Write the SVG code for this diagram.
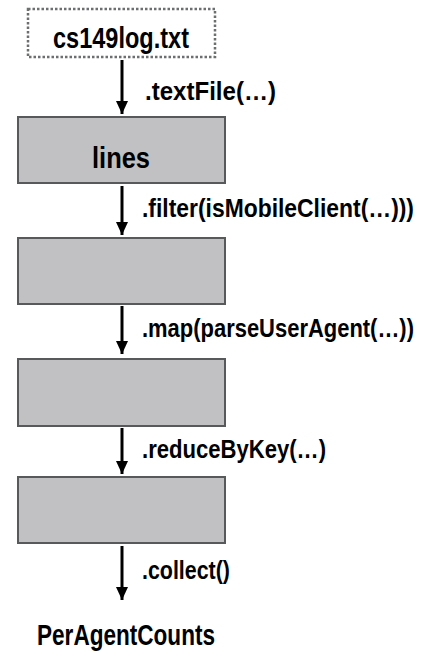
<svg xmlns="http://www.w3.org/2000/svg" width="426" height="651" viewBox="0 0 426 651">
<style>
.box{fill:#c1c1c3;stroke:#58595b;stroke-width:2}
.src{fill:#fff;stroke:#6d6e70;stroke-width:2.5;stroke-dasharray:2.5 2}
.t{font-family:"Liberation Sans Narrow","Liberation Sans",Arial,sans-serif;font-weight:bold;fill:#000}
.lbl{font-size:26px}
.big{font-size:30px}
.edge{stroke:#000;stroke-width:3;fill:none}
</style>
<defs>
<marker id="ah" markerUnits="userSpaceOnUse" markerWidth="14" markerHeight="14" viewBox="0 0 14 14" refX="13" refY="7" orient="auto">
<path d="M0,1 L13,7 L0,13 Z" fill="#000"/>
</marker>
</defs>
<g id="node-src">
<rect class="src" x="28" y="9" width="187" height="48"/>
<text class="t big" transform="translate(53,48) scale(0.8,1)" x="0" y="0" textLength="170" lengthAdjust="spacingAndGlyphs">cs149log.txt</text>
</g>
<g id="node-lines">
<rect class="box" x="18" y="117" width="207" height="66"/>
<text class="t big" transform="translate(92,168) scale(0.8,1)" x="0" y="0" textLength="72.5" lengthAdjust="spacingAndGlyphs">lines</text>
</g>
<g id="node-filtered">
<rect class="box" x="18" y="238" width="207" height="66"/>
</g>
<g id="node-mapped">
<rect class="box" x="18" y="359" width="207" height="67"/>
</g>
<g id="node-reduced">
<rect class="box" x="18" y="477" width="207" height="66"/>
</g>
<g id="node-result">
<text class="t big" transform="translate(37,645) scale(0.8,1)" x="0" y="0" textLength="222.5" lengthAdjust="spacingAndGlyphs">PerAgentCounts</text>
</g>
<g id="connectors">
<line class="edge" x1="122" y1="60" x2="122" y2="114" marker-end="url(#ah)"/>
<line class="edge" x1="122" y1="186" x2="122" y2="235" marker-end="url(#ah)"/>
<line class="edge" x1="122" y1="306" x2="122" y2="354" marker-end="url(#ah)"/>
<line class="edge" x1="122" y1="428" x2="122" y2="474" marker-end="url(#ah)"/>
<line class="edge" x1="122" y1="546" x2="122" y2="600" marker-end="url(#ah)"/>
<text class="t lbl" transform="translate(145,100) scale(0.8,1)" x="0" y="0" textLength="163.75" lengthAdjust="spacingAndGlyphs">.textFile(…)</text>
<text class="t lbl" transform="translate(142,217) scale(0.8,1)" x="0" y="0" textLength="340" lengthAdjust="spacingAndGlyphs">.filter(isMobileClient(…)))</text>
<text class="t lbl" transform="translate(142,337) scale(0.8,1)" x="0" y="0" textLength="340" lengthAdjust="spacingAndGlyphs">.map(parseUserAgent(…))</text>
<text class="t lbl" transform="translate(142,458) scale(0.8,1)" x="0" y="0" textLength="230" lengthAdjust="spacingAndGlyphs">.reduceByKey(…)</text>
<text class="t lbl" transform="translate(142,579) scale(0.8,1)" x="0" y="0" textLength="110" lengthAdjust="spacingAndGlyphs">.collect()</text>
</g>
</svg>
